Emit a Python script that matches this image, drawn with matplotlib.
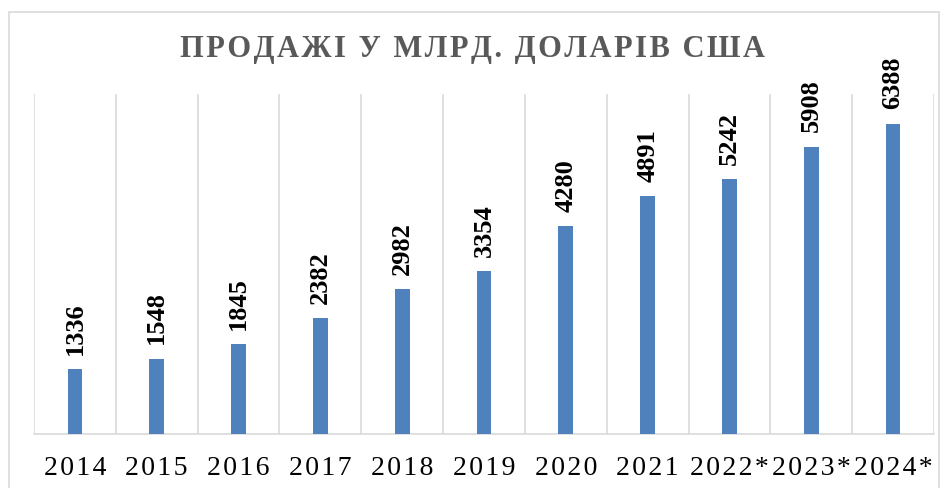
import matplotlib
matplotlib.use("Agg")
import matplotlib.pyplot as plt
from matplotlib.patches import Rectangle
import numpy as np

# дані
years = ["2014", "2015", "2016", "2017", "2018", "2019", "2020", "2021", "2022*", "2023*", "2024*"]
sales = [1336, 1548, 1845, 2382, 2982, 3354, 4280, 4891, 5242, 5908, 6388]
title = "ПРОДАЖІ У МЛРД. ДОЛАРІВ США"

plt.rcParams['font.family'] = ['Liberation Serif', 'DejaVu Serif']

fig = plt.figure(figsize=(9.45, 4.88), dpi=100)
ax = fig.add_axes([34/945, 1 - 434/488, 900/945, 340/488])

# рамка навколо діаграми
fig.patches.append(Rectangle((9/945, -0.01), 930/945, 1 - 12/488 + 0.01,
                             transform=fig.transFigure, fill=False,
                             edgecolor='#d9d9d9', linewidth=1.2))

x = np.arange(len(years))
ax.bar(x, sales, width=0.18, color='#4f81bd', zorder=3)

for xi, v in zip(x, sales):
    ax.text(xi, v + 300, str(v), rotation=90, ha='center', va='bottom',
            fontsize=19, fontweight='bold', color='black')

ax.set_xlim(-0.5, len(years) - 0.5)
ax.set_ylim(0, 7000)
ax.set_yticks([])
ax.set_xticks(x)
ax.set_xticklabels(["\u200a".join(y) for y in years], fontsize=20)
ax.tick_params(axis='x', length=0, pad=16)
ax.set_xticks(np.arange(-0.5, len(years)), minor=True)
ax.tick_params(axis='x', which='minor', length=0)
ax.grid(True, axis='x', which='minor', color='#d9d9d9', linewidth=1.2, zorder=0)

for s in ['top', 'left', 'right']:
    ax.spines[s].set_visible(False)
ax.spines['bottom'].set_color('#d9d9d9')
ax.spines['bottom'].set_linewidth(1.2)

fig.text(0.5, 1 - 49/488, "\u200a".join(title), ha='center', va='center',
         fontsize=22, fontweight='bold', color='#595959')

fig.savefig("out.png", dpi=100)
